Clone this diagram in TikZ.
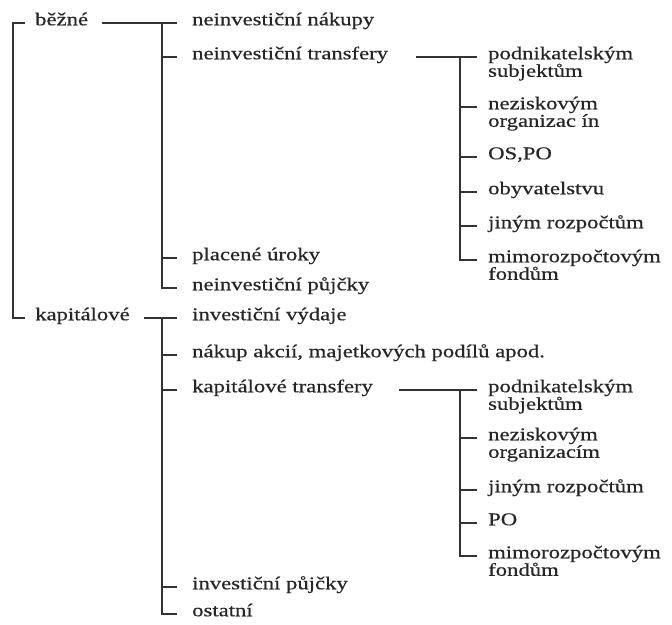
\documentclass[tikz,border=0pt]{standalone}
\usepackage{fontspec}
\setmainfont{Liberation Serif}[FakeStretch=1.26,FakeBold=0.5]
\usepackage{tikz}
\usetikzlibrary{positioning}
\usetikzlibrary{calc}

\newcommand{\twoline}[2]{\vtop{\baselineskip=17.5pt\lineskiplimit=-100pt\hbox{#1}\hbox{#2}}}

\tikzset{
  lbl/.style={anchor=west, inner sep=0pt, text height=0.7em, text depth=0.25em,
              text=black!85, font=\fontsize{18}{18}\selectfont},
  brk/.style={draw=black!80, line width=1.5pt},
}

\begin{document}
\begin{tikzpicture}[x=1pt,y=-1pt]
  \useasboundingbox (0,0) rectangle (672,624);

	%main groups
  \node[lbl] (bezne) at (35,23) {běžné};
  \node[lbl] (kap) at (35,318) {kapitálové};

	%current items
    \foreach \y/\txt/\name in {23/neinvestiční nákupy/nakupy, 57/neinvestiční transfery/ntransf,
                               258/placené úroky/uroky, 288/neinvestiční půjčky/npujcky}{
           \node[lbl] (\name) at (192,\y) {\txt};
    }

	%capital items
    \foreach \y/\txt/\name in {318/investiční výdaje/ivydaje, 355/{nákup akcií, majetkových podílů apod.}/akcie,
                               390/kapitálové transfery/ktransf, 587/investiční půjčky/ipujcky, 614/ostatní/ostatni}{
           \node[lbl] (\name) at (192,\y) {\txt};
    }

	%current transfers to
    \foreach \y/\txt/\name in {57/{\twoline{podnikatelským}{subjektům}}/a1, 107/{\twoline{neziskovým}{organizac ín}}/a2,
                               157/{OS,PO}/a3, 192/obyvatelstvu/a4, 226/jiným rozpočtům/a5,
                               260/{\twoline{mimorozpočtovým}{fondům}}/a6}{
           \node[lbl] (\name) at (488,\y) {\txt};
    }

	%capital transfers to
    \foreach \y/\txt/\name in {390/{\twoline{podnikatelským}{subjektům}}/b1, 438/{\twoline{neziskovým}{organizacím}}/b2,
                               490/jiným rozpočtům/b3, 523/PO/b4, 556/{\twoline{mimorozpočtovým}{fondům}}/b5}{
           \node[lbl] (\name) at (488,\y) {\txt};
    }

	%brackets
  \draw[brk] ([xshift=-10]bezne.west) -- ++(-12,0) |- ([xshift=-10]kap.west);

  \draw[brk] ([xshift=14]bezne.east) -- ([xshift=-15]nakupy.west);
  \draw[brk] ([xshift=-30]nakupy.west) |- ([xshift=-15]npujcky.west);
    \foreach \n in {ntransf,uroky}{
         \draw[brk] ([xshift=-15]\n.west) -- ++(-15,0);
    }

  \draw[brk] ([xshift=14]kap.east) -- ([xshift=-15]ivydaje.west);
  \draw[brk] ([xshift=-30]ivydaje.west) |- ([xshift=-15]ostatni.west);
    \foreach \n in {akcie,ktransf,ipujcky}{
         \draw[brk] ([xshift=-15]\n.west) -- ++(-15,0);
    }

  \draw[brk] ([xshift=28]ntransf.east) -- ([xshift=-11]a1.west);
  \draw[brk] ([xshift=-28]a1.west) |- ([xshift=-11]a6.west);
    \foreach \n in {a2,a3,a4,a5}{
         \draw[brk] ([xshift=-11]\n.west) -- ++(-17,0);
    }

  \draw[brk] ([xshift=26]ktransf.east) -- ([xshift=-11]b1.west);
  \draw[brk] ([xshift=-28]b1.west) |- ([xshift=-11]b5.west);
    \foreach \n in {b2,b3,b4}{
         \draw[brk] ([xshift=-11]\n.west) -- ++(-17,0);
    }

\end{tikzpicture}
\end{document}
